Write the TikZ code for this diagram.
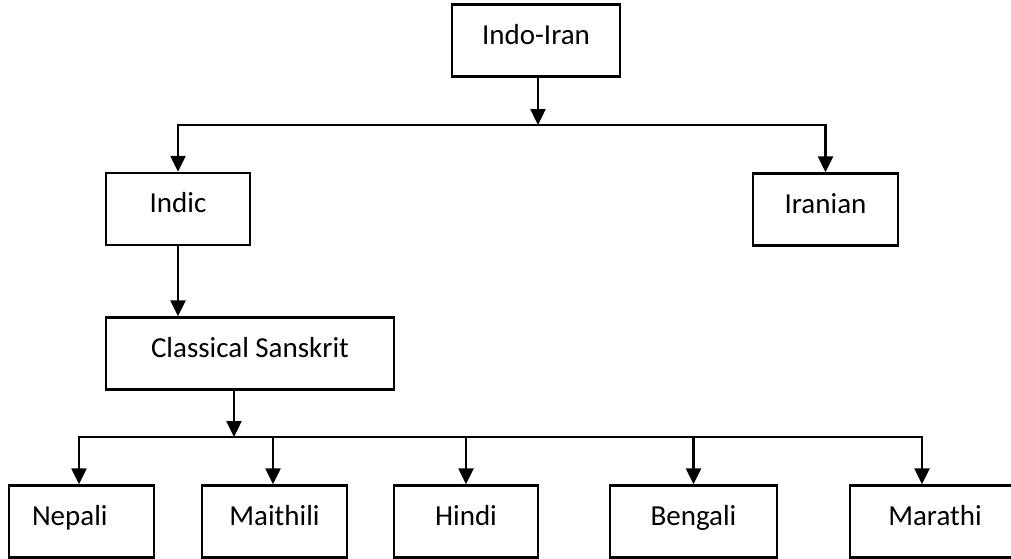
\documentclass[tikz,border=0pt]{standalone}
\usepackage{fontspec}
\setmainfont{Carlito}
\usetikzlibrary{arrows.meta}

\begin{document}
\begin{tikzpicture}
		[x=1pt,y=-1pt,line cap=rect,
		%Styles
		box/.style={draw,line width=2.4pt,inner sep=0pt,minimum height=72pt,
			text height=19pt,text depth=12pt,font=\fontsize{29}{34}\selectfont},
		bus/.style={line width=2.4pt},
		arr/.style={line width=2.4pt,-{Triangle[length=16pt,width=15pt]}}
		]
		
		\clip (0,0) rectangle (1011,558);
		
		%Boxes
		\node[box,minimum width=168pt] (indoiran) at (536,40.5) {Indo-Iran};
		\node[box,minimum width=144pt] (indic) at (178,209) {Indic};
		\node[box,minimum width=145pt] (iranian) at (825.5,209.5) {Iranian};
		\node[box,minimum width=288pt] (sanskrit) at (250,353.5) {Classical Sanskrit};
		
		\node[box,text width=99pt,align=left,inner xsep=23pt] (nepali) at (81.5,521.5) {Nepali};
		\node[box,minimum width=145pt] (maithili) at (274.5,521.5) {Maithili};
		\node[box,minimum width=144pt] (hindi) at (466,521.5) {Hindi};
		\node[box,minimum width=167pt] (bengali) at (693.5,521.5) {Bengali};
		\node[box,minimum width=170pt] (marathi) at (935,521.5) {Marathi};
		
		%Split points
		\coordinate (bus1) at (538,125);
		\coordinate (bus2) at (234,437);
		\coordinate (drop) at (922,437);
		
		%Indo-Iran branch
		\draw[arr] (indoiran.south -| bus1) -- (bus1);
		\draw[bus] (indic.north |- bus1) -- (iranian.north |- bus1);
		\draw[arr] (indic.north |- bus1) -- (indic.north);
		\draw[arr] (iranian.north |- bus1) -- (iranian.north);
		\draw[arr] (indic.south) -- (indic.south |- sanskrit.north);
		
		%Sanskrit branch
		\draw[arr] (sanskrit.south -| bus2) -- (bus2);
		\draw[bus] ([xshift=-2.5pt]nepali.north |- bus2) -- (drop);
		\draw[arr] ([xshift=-2.5pt]nepali.north |- bus2) -- ([xshift=-2.5pt]nepali.north);
		\draw[arr] ([xshift=-1.5pt]maithili.north |- bus2) -- ([xshift=-1.5pt]maithili.north);
		\draw[arr] (hindi.north |- bus2) -- (hindi.north);
		\draw[arr] (bengali.north |- bus2) -- (bengali.north);
		\draw[arr] (drop) -- (drop |- marathi.north);
	\end{tikzpicture}
\end{document}
